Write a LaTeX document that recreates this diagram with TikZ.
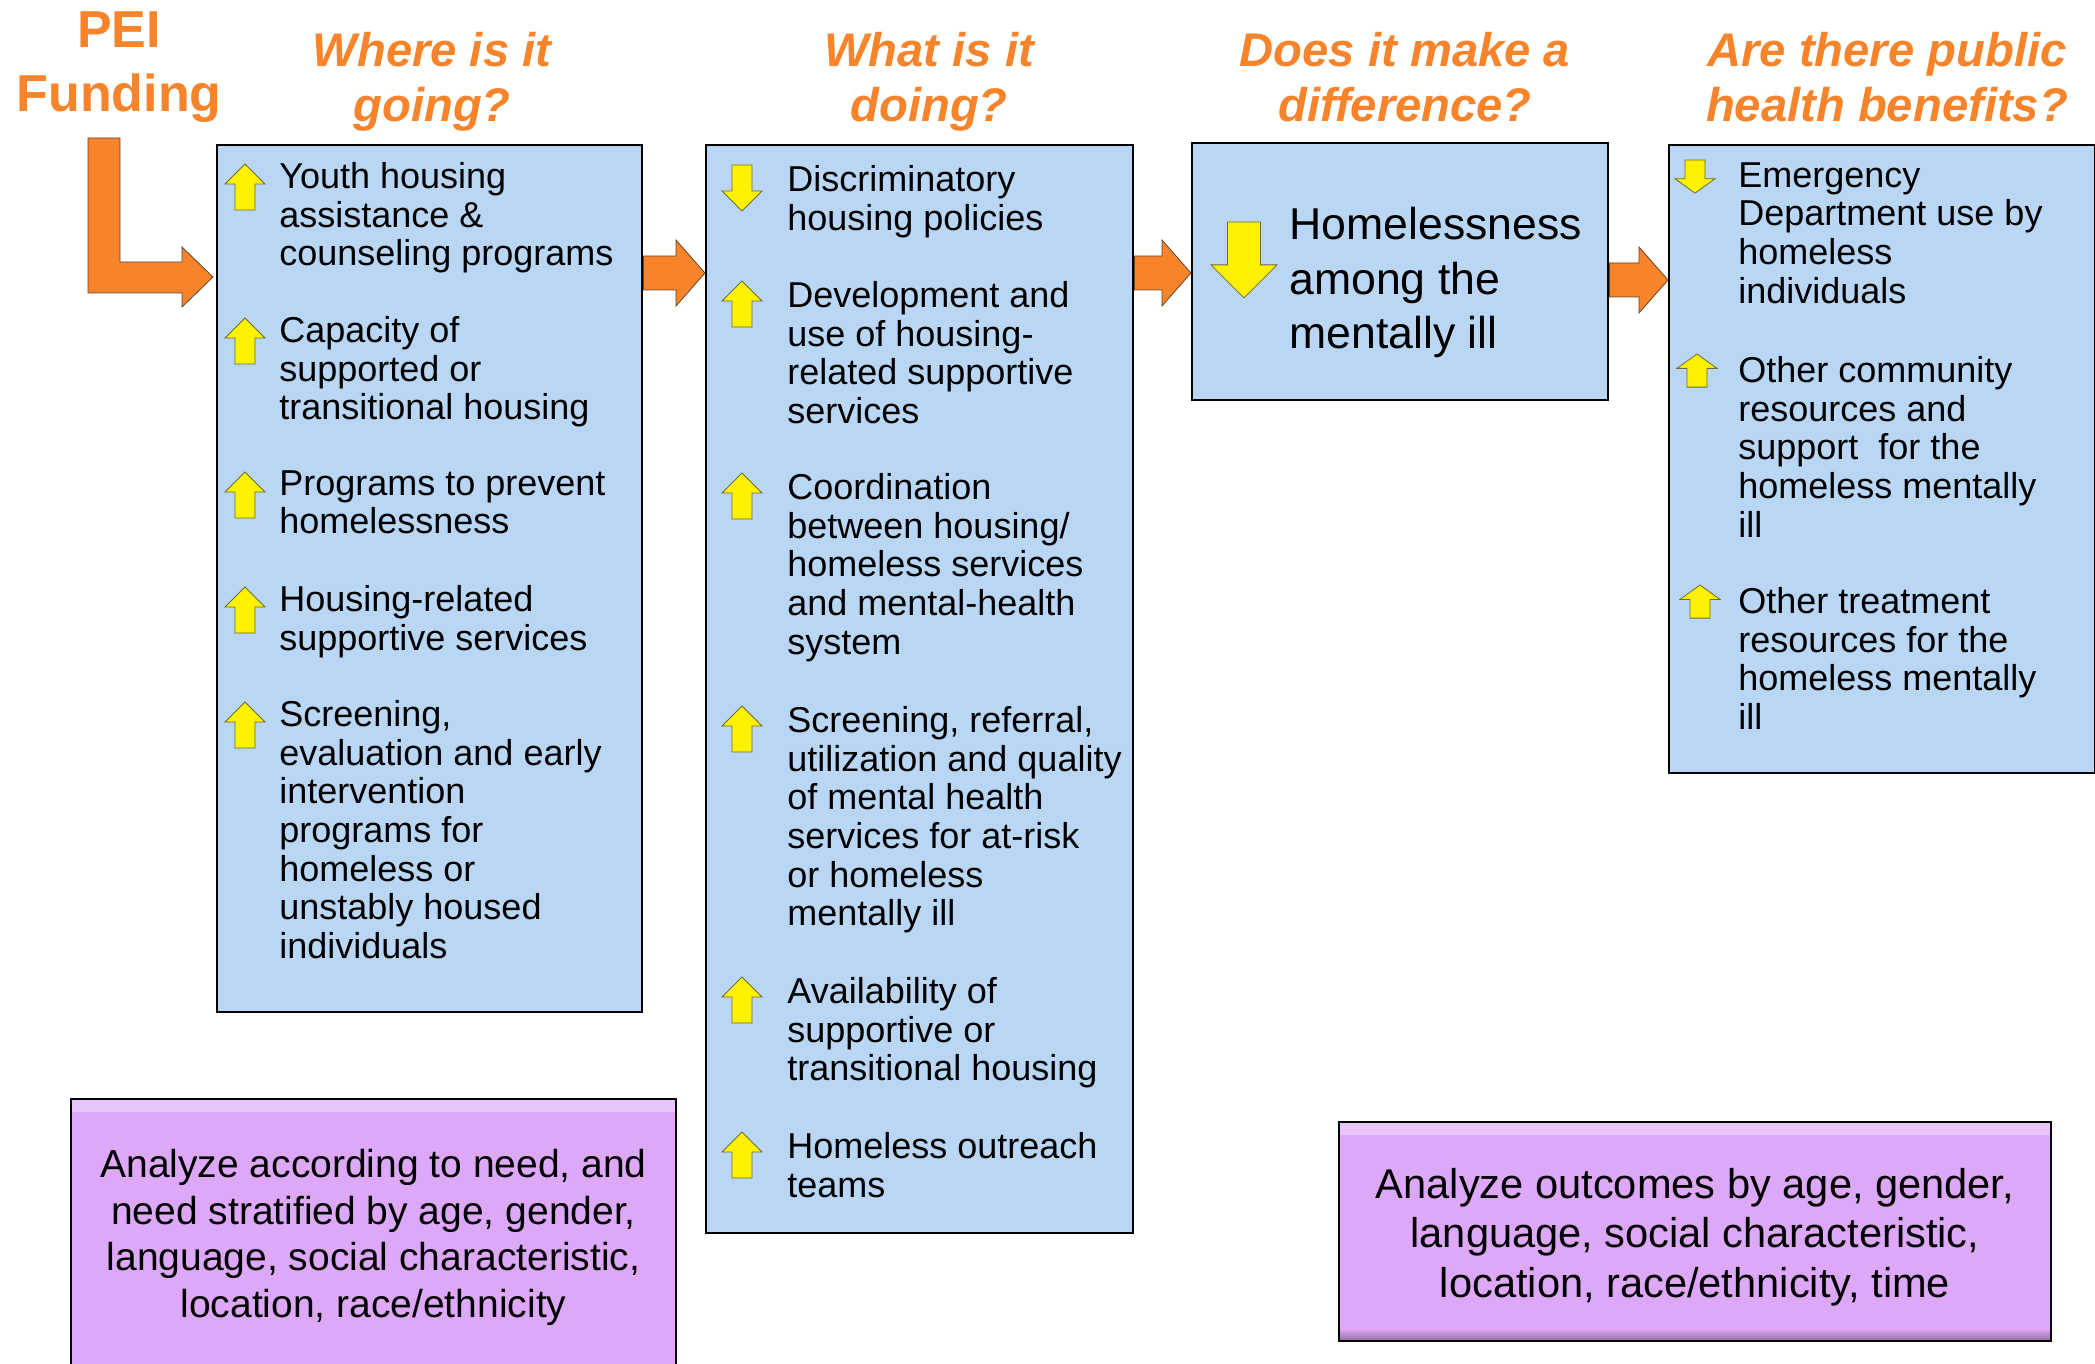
\documentclass[tikz,border=0pt]{standalone}
\usepackage{fontspec}
\setmainfont{Liberation Sans}
\usetikzlibrary{calc}
\definecolor{peiorange}{RGB}{247,131,42}
\definecolor{boxblue}{RGB}{185,215,245}
\definecolor{boxpurple}{RGB}{221,168,247}
\definecolor{iconedge}{RGB}{110,105,50}
\definecolor{arrowedge}{RGB}{95,70,45}
\newcommand{\blockarrow}[3]{%
  \path ($(#1.north east)+(0,#3)$) coordinate (s);
  \path (s -| #2.west) coordinate (t);
  \draw[blockarr] ($(s)+(0,-17)$) -- ($(t)+(-29,-17)$) -- ($(t)+(-29,-33)$) -- (t)
    -- ($(t)+(-29,33)$) -- ($(t)+(-29,17)$) -- ($(s)+(0,17)$) -- cycle;}

\begin{document}
\begin{tikzpicture}[x=0.5pt,y=-0.5pt]
\tikzset{
  bluebox/.style={draw=black, line width=1.2pt, fill=boxblue, anchor=north west},
  purplebox/.style={draw=black, line width=1pt, fill=boxpurple, anchor=north west, align=center,
    path picture={
      \shade[top color=white!35!boxpurple, bottom color=boxpurple]
        (path picture bounding box.north west) rectangle ([yshift=-6pt]path picture bounding box.north east);
      \shade[top color=boxpurple, bottom color=black!35!boxpurple]
        ([yshift=6pt]path picture bounding box.south west) rectangle (path picture bounding box.south east);}},
  itemtext/.style={anchor=north west, inner sep=0pt, align=left, font=\fontsize{18}{19.35}\selectfont},
  headtext/.style={align=center, text=peiorange, font=\fontsize{23.6}{27.5}\bfseries\itshape\selectfont},
  peitext/.style={align=center, text=peiorange, font=\fontsize{26}{32}\bfseries\selectfont},
  icon/.style={fill=yellow, draw=iconedge, line width=0.4pt},
  blockarr/.style={fill=peiorange, draw=arrowedge, line width=0.4pt},
  upicon/.pic={\draw[icon] (0,0) -- (20,20) -- (10,20) -- (10,46) -- (-10,46) -- (-10,20) -- (-20,20) -- cycle;},
  downicon/.pic={\draw[icon] (-10,0) -- (10,0) -- (10,26) -- (20,26) -- (0,46) -- (-20,26) -- (-10,26) -- cycle;}
}
\useasboundingbox (0,0) rectangle (2095,1364);

\node[peitext] (pei) at (119,67) {PEI\\Funding};
\node[headtext] (h1) at (432,82) {Where is it\\going?};
\node[headtext] (h2) at (929,82) {What is it\\doing?};
\node[headtext] (h3) at (1405,77) {Does it make a\\difference?};
\node[headtext] (h4) at (1887,77) {Are there public\\health benefits?};

\node[bluebox, minimum width=212.5pt, minimum height=433.5pt] (b1) at (216,144) {};
\node[bluebox, minimum width=213.5pt, minimum height=544pt] (b2) at (705,144) {};
\node[bluebox, minimum width=208pt, minimum height=128.5pt] (b3) at (1191,142) {};
\node[bluebox, minimum width=213pt, minimum height=314pt] (b4) at (1668,144) {};

\node[itemtext] (b1i1) at (279,162) {Youth housing\\assistance \&\\counseling programs};
\node[itemtext] (b1i2) at (279,316) {Capacity of\\supported or\\transitional housing};
\node[itemtext] (b1i3) at (279,470) {Programs to prevent\\homelessness};
\node[itemtext] (b1i4) at (279,585) {Housing-related\\supportive services};
\node[itemtext] (b1i5) at (279,700) {Screening,\\evaluation and early\\intervention\\programs for\\homeless or\\unstably housed\\individuals};
\path (b1i1.north west) ++(-34,2) pic {upicon};
\path (b1i2.north west) ++(-34,2) pic {upicon};
\path (b1i3.north west) ++(-34,2) pic {upicon};
\path (b1i4.north west) ++(-34,2) pic {upicon};
\path (b1i5.north west) ++(-34,2) pic {upicon};

\node[itemtext] (b2i1) at (787,165) {Discriminatory\\housing policies};
\node[itemtext] (b2i2) at (787,281) {Development and\\use of housing-\\related supportive\\services};
\node[itemtext] (b2i3) at (787,473) {Coordination\\between housing/\\homeless services\\and mental-health\\system};
\node[itemtext] (b2i4) at (787,706) {Screening, referral,\\utilization and quality\\of mental health\\services for at-risk\\or homeless\\mentally ill};
\node[itemtext] (b2i5) at (787,977) {Availability of\\supportive or\\transitional housing};
\node[itemtext] (b2i6) at (787,1132) {Homeless outreach\\teams};
\path (b2i1.north west) ++(-45,0) pic {downicon};
\path (b2i2.north west) ++(-45,0) pic {upicon};
\path (b2i3.north west) ++(-45,0) pic {upicon};
\path (b2i4.north west) ++(-45,0) pic {upicon};
\path (b2i5.north west) ++(-45,0) pic {upicon};
\path (b2i6.north west) ++(-45,0) pic {upicon};

\node[itemtext, font=\fontsize{22.3}{27.25}\selectfont] (b3t) at (1289,207) {Homelessness\\among the\\mentally ill};
\path (b3t.north west) ++(-45,15) pic[scale=1.65] {downicon};

\node[itemtext] (b4i1) at (1738,162) {Emergency\\Department use by\\homeless\\individuals};
\node[itemtext] (b4i2) at (1738,356) {Other community\\resources and\\support\ \ for the\\homeless mentally\\ill};
\node[itemtext] (b4i3) at (1738,587) {Other treatment\\resources for the\\homeless mentally\\ill};
\path (b4i1.north west) ++(-43,-2) pic[yscale=.72] {downicon};
\path (b4i2.north west) ++(-41,-2) pic[yscale=.72] {upicon};
\path (b4i3.north west) ++(-38,-2) pic[yscale=.72] {upicon};

\node[purplebox, minimum width=302.5pt, minimum height=138.5pt, font=\fontsize{19.5}{23.35}\selectfont] (p1) at (70,1098)
  {Analyze according to need, and\\need stratified by age, gender,\\language, social characteristic,\\location, race/ethnicity};
\node[purplebox, minimum width=356pt, minimum height=109.5pt, font=\fontsize{20.8}{24.75}\selectfont] (p2) at (1338,1121)
  {\\[-4pt]Analyze outcomes by age, gender,\\language, social characteristic,\\location, race/ethnicity, time};

\coordinate (ltop) at (104,138);
\coordinate (ltip) at ($(b1.north west)+(-3,133)$);
\draw[blockarr] ($(ltop)+(-16,0)$) -- ($(ltop)+(16,0)$) -- ($(ltop |- ltip)+(16,-15)$) -- ($(ltip)+(-31,-15)$)
  -- ($(ltip)+(-31,-30)$) -- (ltip) -- ($(ltip)+(-31,30)$) -- ($(ltip)+(-31,16)$) -- ($(ltop |- ltip)+(-16,16)$) -- cycle;
\blockarrow{b1}{b2}{129}
\blockarrow{b2}{b3}{129}
\blockarrow{b3}{b4}{138}
\end{tikzpicture}
\end{document}
